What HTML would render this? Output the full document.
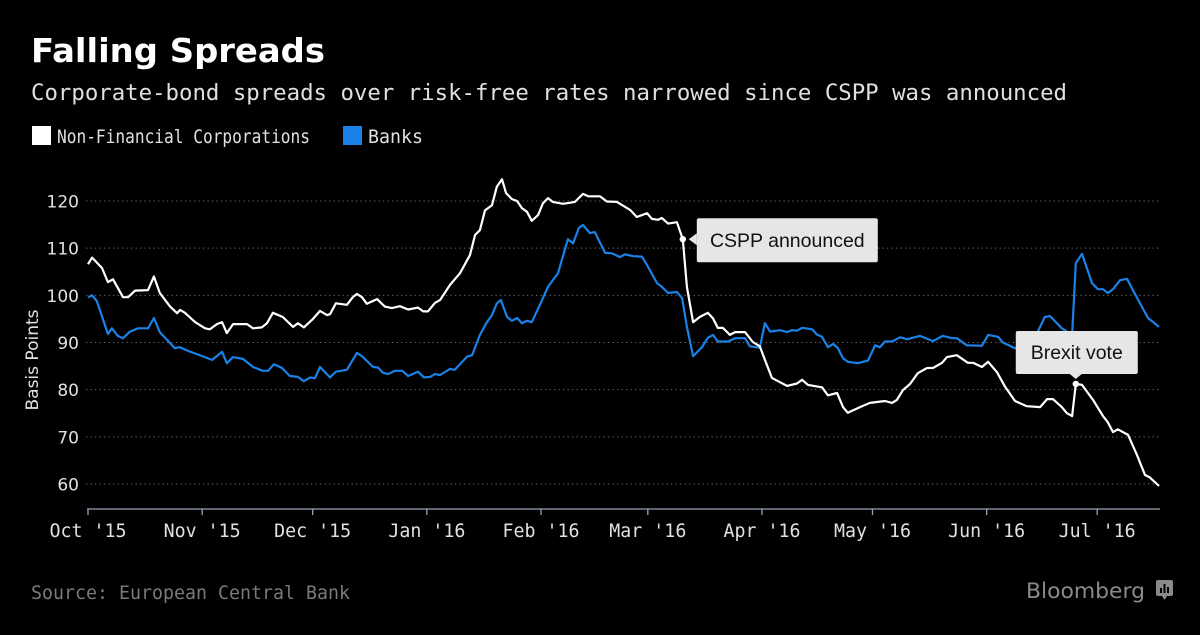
<!DOCTYPE html>
<html><head><meta charset="utf-8">
<style>
html,body{margin:0;padding:0;background:#000;}
body{width:1200px;height:635px;overflow:hidden;position:relative;}
svg{position:absolute;left:0;top:0;}
</style></head>
<body>
<svg id="chart" width="1200" height="635" viewBox="0 0 1200 635" xmlns="http://www.w3.org/2000/svg">
<text x="31" y="62" fill="#fff" font-family="DejaVu Sans, sans-serif" font-weight="bold" font-size="33" textLength="294" lengthAdjust="spacingAndGlyphs">Falling Spreads</text>
<text x="31" y="100" fill="#e0e0e0" font-family="DejaVu Sans Mono, monospace" font-size="22.3" textLength="1036" lengthAdjust="spacingAndGlyphs">Corporate-bond spreads over risk-free rates narrowed since CSPP was announced</text>
<g>
<rect x="32" y="126" width="19" height="19" fill="#fff"/>
<text x="57" y="143" fill="#e0e0e0" font-family="DejaVu Sans Mono, monospace" font-size="19" textLength="253" lengthAdjust="spacingAndGlyphs">Non-Financial Corporations</text>
<rect x="343" y="126" width="19" height="19" fill="#1a82e6"/>
<text x="368" y="143" fill="#e0e0e0" font-family="DejaVu Sans Mono, monospace" font-size="19" textLength="55" lengthAdjust="spacingAndGlyphs">Banks</text>
</g>
<text transform="translate(38,360) rotate(-90)" text-anchor="middle" fill="#e0e0e0" font-family="DejaVu Sans, sans-serif" font-size="17">Basis Points</text>
<g id="grid"></g>
<g id="xaxis"></g>
<g id="series"></g>
<g id="annot"></g>
<text x="31" y="599" fill="#7a7a7a" font-family="DejaVu Sans Mono, monospace" font-size="19" textLength="319" lengthAdjust="spacingAndGlyphs">Source: European Central Bank</text>
<text x="1026" y="598" fill="#8a8a8a" font-family="DejaVu Sans, sans-serif" font-size="21" textLength="119" lengthAdjust="spacingAndGlyphs">Bloomberg</text>
<g>
<rect x="1156" y="580" width="17" height="16" rx="2" fill="#8a8a8a"/>
<path d="M1162 596 L1164.5 600 L1167 596 Z" fill="#8a8a8a"/>
<rect x="1160" y="588" width="2" height="5" fill="#000"/><rect x="1163.5" y="584" width="2" height="9" fill="#000"/><rect x="1167" y="587" width="2" height="6" fill="#000"/>
</g>
</svg>
<script>
const yTicks = [60,70,80,90,100,110,120];
const monthLabels = ["Oct '15","Nov '15","Dec '15","Jan '16","Feb '16","Mar '16","Apr '16","May '16","Jun '16","Jul '16"];
const monthDays = [0,31,61,92,123,152,183,213,244,274];
const nfcDays = [0,1.1,3.8,5.4,6.8,9.5,10.9,12.8,16.3,17.9,19.5,22.3,24.2,25,26.3,29.1,31.8,33.1,35,36.4,37.7,39.4,43.2,44.8,47.2,48.6,50.2,52.9,55.7,57,58.6,61.1,63,64.9,65.7,67.3,70.3,71.9,73,74.4,75.7,78.5,80.6,82.5,84.7,86.9,89.6,91,92.3,94.2,95.6,98.3,101,103.7,105.1,106.4,107.8,109.7,111,112.4,113.5,115.1,116.5,117.8,119.2,120.5,122.2,123.5,124.9,126.2,129,132.2,134.4,135.8,139,140.9,143.6,145.3,147.2,149,151.8,153.1,154.8,155.8,157.5,159.9,161.5,162.6,164.3,166.1,168.3,169.7,171,172.4,174.3,175.7,178.4,180.5,182.4,183.8,185.7,187.1,189.8,192.5,193.9,195.5,199.3,200.9,203.4,205,206.3,209.6,212.3,214.5,216.4,218.3,219.6,221.3,223.2,225.3,227.8,229.4,231.9,233.2,235.9,238.9,240.3,242.7,244.4,246.8,249,251.7,254.9,258.5,260.4,262,264.4,265.8,267.2,268.2,269.9,272.9,275.6,276.9,278.3,279.6,282.4,284.8,287,288.3,290.8];
const nfcValues = [106.6,108,105.8,102.8,103.4,99.6,99.6,101,101.1,104,100.5,97.6,96.2,96.9,96.3,94.3,93,92.8,93.9,94.3,92,93.9,93.9,93,93.2,94.1,96.3,95.4,93.3,94.1,93.2,95,96.7,95.8,96,98.3,98,99.6,100.3,99.6,98.2,99.2,97.6,97.3,97.7,97,97.4,96.6,96.6,98.4,99,102.2,104.7,108.5,112.8,113.8,118,119.1,123,124.6,121.7,120.4,120,118.5,117.7,115.8,117,119.5,120.6,119.8,119.4,119.8,121.5,121,121,119.9,119.8,119,118.1,116.6,117.4,116.2,116,116.4,115.2,115.5,111.9,101.8,94.3,95.4,96.3,95.1,93.1,93.1,91.6,92.2,92.2,90.1,89.2,86.3,82.5,81.9,80.8,81.3,82.1,81,80.5,78.8,79.3,76.3,75.1,76.3,77.2,77.4,77.6,77.2,77.8,79.9,81.2,83.5,84.6,84.6,85.7,86.9,87.3,85.7,85.7,84.8,85.9,83.7,80.6,77.6,76.5,76.3,78,78,76.3,75,74.4,81.2,81,77.8,74.4,73.1,71,71.6,70.4,66.2,61.9,61.4,59.6];
const bankDays = [0,1.1,2.4,5.4,6.5,8.1,9.5,11.4,13.6,16.3,17.9,19.5,23.6,25,26.9,33.7,36.4,37.7,39.4,42.1,44.8,47.5,48.9,50.5,52.7,54.8,57,58.6,60.3,61.6,63,65.7,67.3,70.3,73,74.4,77.4,78.7,80.1,81.4,83.4,85.3,86.9,89.6,91.2,92.9,94.2,95.6,98.3,99.6,102.9,104.3,106.4,108.3,109.7,111,112.1,113.8,115.1,116.5,117.8,119.2,120.5,122.7,124.9,127.6,130.3,131.7,133.3,134.4,136.3,137.6,140.4,142.3,144.4,145.8,148,150.4,151.8,154.5,155.8,157.5,159.9,161.3,162.6,164.3,166.7,168.3,169.7,171,173.8,175.7,178.4,179.7,182.4,183.8,185.2,187.9,189.8,191.1,192.5,193.9,196.6,197.9,199.3,200.9,202.3,203.6,205,206.3,209.1,211.8,213.7,215,216.4,218.3,220.5,222.4,225.9,229.4,232.1,234.6,235.9,238.6,242.7,244.4,247.1,248.4,251.7,254.4,257.7,259.8,261.2,264.4,267.2,268.2,269.9,272.6,274.2,275.6,276.9,278.3,280.2,282.1,283.7,287.8,290.8];
const bankValues = [99.6,100,98.8,91.8,93,91.4,90.9,92.3,93,93,95.2,92.2,88.8,89,88.3,86.3,88,85.6,86.9,86.5,84.8,84,84,85.4,84.6,82.9,82.7,81.8,82.6,82.4,84.8,82.6,83.8,84.2,87.8,87.1,84.8,84.7,83.6,83.3,84,84,82.9,83.8,82.6,82.7,83.3,83.1,84.4,84.2,87,87.3,91.6,94.3,95.8,98.3,99,95.4,94.6,95.2,94.1,94.6,94.3,98,101.8,104.7,111.9,111,114.3,114.9,113.2,113.4,109,108.9,108.1,108.7,108.3,108.2,106.4,102.6,101.8,100.5,100.7,99.4,93.3,87.1,89,91,91.6,90.2,90.2,90.9,90.9,89.2,88.9,94.1,92.3,92.6,92.2,92.6,92.5,93.1,92.8,91.7,91.2,89,89.7,88.8,86.7,85.9,85.6,86.2,89.4,89,90.2,90.2,91.1,90.7,91.4,90.3,91.4,90.9,90.9,89.4,89.3,91.6,91.2,90,88.8,89.3,92,95.4,95.6,93,91.6,106.8,108.8,102.6,101.3,101.3,100.5,101.3,103.2,103.5,101.1,95.2,93.3];
const annotLabels = ["CSPP announced","Brexit vote"];
const annotDays = [161.5,268.2];
const annotValues = [111.9,81.2];

const NS = "http://www.w3.org/2000/svg";
const X0 = 88, PXD = 3.683;
function xScale(d){ return X0 + d*PXD; }
function yScale(v){ return 484 - (v-60)*4.717; }
function mk(tag, attrs, parent){ const e=document.createElementNS(NS,tag); for(const k in attrs) e.setAttribute(k,attrs[k]); parent.appendChild(e); return e; }

const grid = document.getElementById('grid');
yTicks.forEach(t=>{
  const l = mk('line',{x1:86,x2:1160,y1:yScale(t),y2:yScale(t),stroke:'#6a6a6a','stroke-width':1,'stroke-dasharray':'1.3,3.2'},grid);
  
  
  const tx = mk('text',{x:79,y:yScale(t)+6.5,'text-anchor':'end',fill:'#e0e0e0','font-family':'DejaVu Sans, sans-serif','font-size':17},grid);
  tx.textContent = t;
  
  
});

const xa = document.getElementById('xaxis');
const base = mk('line',{x1:87,x2:1160,y1:509,y2:509,stroke:'#9aa3b5','stroke-width':1.3},xa);


monthDays.forEach((d,i)=>{
  const x = xScale(d);
  const tk = mk('line',{x1:x,x2:x,y1:509,y2:515,stroke:'#9aa3b5','stroke-width':1.3},xa);
  
  
  const tx = mk('text',{x:x,y:537,'text-anchor':'middle',fill:'#e0e0e0','font-family':'DejaVu Sans Mono, monospace','font-size':18.3},xa);
  tx.textContent = monthLabels[i];
  
  
});

const sg = document.getElementById('series');
function line(days, vals, color, name){
  const pts = days.map((d,i)=>xScale(d).toFixed(1)+','+yScale(vals[i]).toFixed(1)).join(' ');
  const p = mk('polyline',{points:pts,fill:'none',stroke:color,'stroke-width':2.2,'stroke-linejoin':'round'},sg);
  
  
}
line(bankDays,bankValues,'#1a82e6','banks-line');
line(nfcDays,nfcValues,'#ffffff','nfc-line');

const an = document.getElementById('annot');
annotLabels.forEach((lab,i)=>{
  const x = xScale(annotDays[i]), y = yScale(annotValues[i]);
  const g = mk('g',{},an);
  
  
  mk('circle',{cx:x,cy:y,r:3.2,fill:'#fff'},g);
  if(i===0){
    const bx = x+14, by = y-21, w = 181, h = 44;
    mk('rect',{x:bx,y:by,width:w,height:h,rx:2,fill:'#e6e6e6'},g);
    mk('path',{d:`M${bx} ${y-6} L${x+6} ${y} L${bx} ${y+6} Z`,fill:'#e6e6e6'},g);
    const t = mk('text',{x:bx+w/2,y:by+29,'text-anchor':'middle',fill:'#111','font-family':'Liberation Sans, sans-serif','font-size':19.5},g);
    t.textContent = lab;
  } else {
    const w = 122, h = 43, bx = x-60, by = y-53;
    mk('rect',{x:bx,y:by,width:w,height:h,rx:2,fill:'#e6e6e6'},g);
    mk('path',{d:`M${x-6} ${by+h} L${x} ${y-5} L${x+6} ${by+h} Z`,fill:'#e6e6e6'},g);
    const t = mk('text',{x:bx+w/2,y:by+28,'text-anchor':'middle',fill:'#111','font-family':'Liberation Sans, sans-serif','font-size':19.5},g);
    t.textContent = lab;
  }
});
</script>
</body></html>
